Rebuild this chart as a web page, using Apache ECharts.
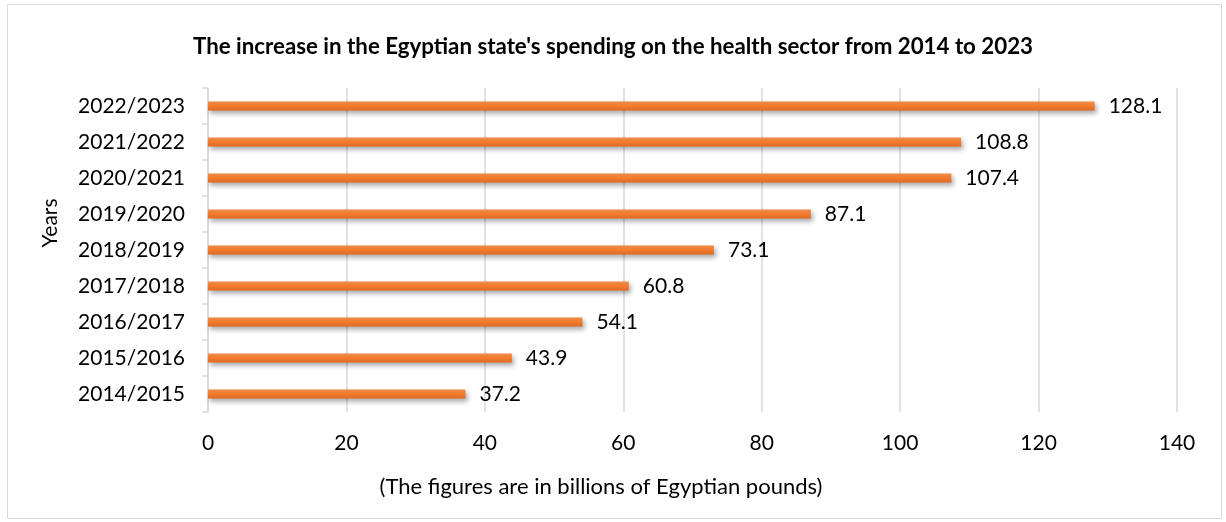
<!DOCTYPE html>
<html><head><meta charset="utf-8">
<script src="https://cdn.jsdelivr.net/npm/echarts@6/dist/echarts.min.js"></script>
<style>html,body{margin:0;padding:0;background:#fff}#c{width:1226px;height:522px}</style>
</head><body><div id="c"></div>
<script>
const years = ['2014/2015','2015/2016','2016/2017','2017/2018','2018/2019','2019/2020','2020/2021','2021/2022','2022/2023'];
const spending = [37.2, 43.9, 54.1, 60.8, 73.1, 87.1, 107.4, 108.8, 128.1];
const titleText = "The increase in the Egyptian state's spending on the health sector from 2014 to 2023";
const xAxisName = '(The figures are in billions of Egyptian pounds)';
const yAxisName = 'Years';
const F = 'Lato, "Open Sans", sans-serif';
const chart = echarts.init(document.getElementById('c'));
chart.setOption({
  animation: false,
  backgroundColor: '#fff',
  title: { text: titleText, left: 'center', top: 31,
    textStyle: { fontFamily: F, fontSize: 22.3, fontWeight: 'bold', color: '#000' } },
  grid: { left: 208, right: 49, top: 88, bottom: 110 },
  xAxis: { type: 'value', min: 0, max: 140, interval: 20,
    axisLine: { show: false }, axisTick: { show: false },
    axisLabel: { fontFamily: F, fontSize: 21, color: '#000', margin: 21 },
    splitLine: { lineStyle: { color: '#d9d9d9', width: 1.5 } } },
  yAxis: { type: 'category', data: years,
    axisLine: { lineStyle: { color: '#d9d9d9', width: 1.5 } },
    axisTick: { show: true, length: 6, lineStyle: { color: '#d9d9d9', width: 1.5 } },
    axisLabel: { fontFamily: F, fontSize: 21, color: '#000', margin: 23 } },
  graphic: [
    { type: 'rect', shape: { x: 7.5, y: 4.5, width: 1214, height: 514 },
      style: { fill: 'none', stroke: '#d9d9d9', lineWidth: 1 }, silent: true },
    { type: 'text', x: 50, y: 223, rotation: Math.PI / 2,
      style: { text: yAxisName, font: '21px ' + F, fill: '#000', textAlign: 'center', textVerticalAlign: 'middle' } },
    { type: 'text', x: 601, y: 487,
      style: { text: xAxisName, font: '22px ' + F, fill: '#000', textAlign: 'center', textVerticalAlign: 'middle' } }
  ],
  series: [{
    type: 'bar', data: spending, barWidth: 9,
    itemStyle: {
      color: new echarts.graphic.LinearGradient(0, 0, 0, 1, [
        { offset: 0, color: '#f28a45' }, { offset: 0.5, color: '#f07b30' }, { offset: 1, color: '#e06a20' }]),
      shadowColor: 'rgba(0,0,0,0.35)', shadowBlur: 5, shadowOffsetX: 2, shadowOffsetY: 3
    },
    label: { show: true, position: 'right', distance: 14,
      fontFamily: F, fontSize: 21, color: '#000' }
  }]
});
</script></body></html>
